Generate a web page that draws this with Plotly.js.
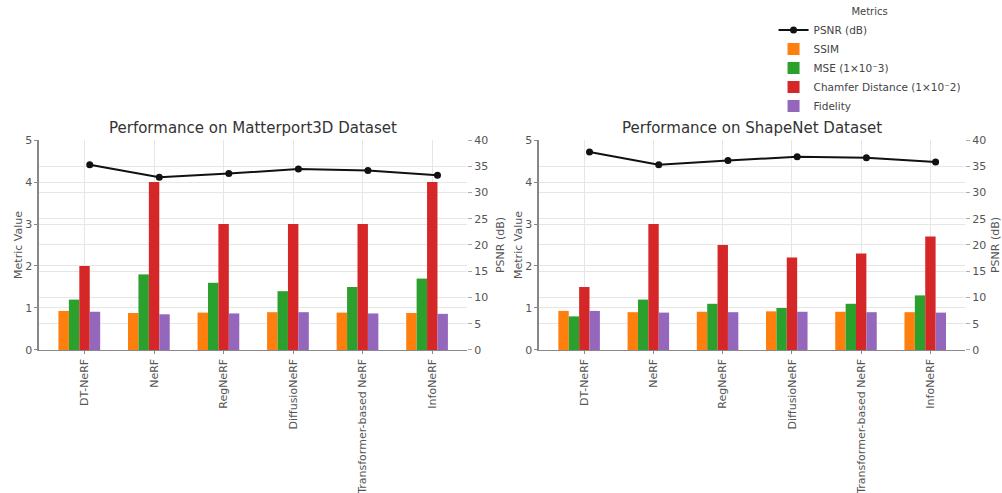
<!DOCTYPE html>
<html>
<head>
<meta charset="utf-8">
<script src="https://cdn.plot.ly/plotly-3.0.1.min.js"></script>
<style>html,body{margin:0;padding:0;background:#fff;}#chart{width:1002px;height:493px;}</style>
</head>
<body>
<div id="chart"></div>
<script>
const methods = ["DT-NeRF", "NeRF", "RegNeRF", "DiffusioNeRF", "Transformer-based NeRF", "InfoNeRF"];

// Matterport3D
const mpPSNR = [35.3, 32.9, 33.6, 34.5, 34.2, 33.3];
const mpSSIM = [0.93, 0.88, 0.89, 0.90, 0.89, 0.88];
const mpMSE = [1.2, 1.8, 1.6, 1.4, 1.5, 1.7];
const mpChamfer = [2.0, 4.0, 3.0, 3.0, 3.0, 4.0];
const mpFidelity = [0.91, 0.85, 0.87, 0.90, 0.87, 0.86];

// ShapeNet
const snPSNR = [37.7, 35.3, 36.1, 36.8, 36.6, 35.8];
const snSSIM = [0.93, 0.90, 0.91, 0.92, 0.91, 0.90];
const snMSE = [0.8, 1.2, 1.1, 1.0, 1.1, 1.3];
const snChamfer = [1.5, 3.0, 2.5, 2.2, 2.3, 2.7];
const snFidelity = [0.93, 0.89, 0.90, 0.91, 0.90, 0.89];

const seriesNames = ["PSNR (dB)", "SSIM", "MSE (1×10⁻3)", "Chamfer Distance (1×10⁻2)", "Fidelity"];
const titles = ["Performance on Matterport3D Dataset", "Performance on ShapeNet Dataset"];

const colors = {ssim: "#ff7f0e", mse: "#2ca02c", chamfer: "#d62728", fid: "#9467bd"};
const W = 0.15;
const idx = methods.map((m, i) => i);

function panel(xa, ya, ya2, psnr, ssim, mse, chamfer, fid, showLeg) {
  const bars = [
    [seriesNames[1], ssim, colors.ssim, -2.5 * W],
    [seriesNames[2], mse, colors.mse, -1.5 * W],
    [seriesNames[3], chamfer, colors.chamfer, -0.5 * W],
    [seriesNames[4], fid, colors.fid, 0.5 * W]
  ].map(([name, vals, col, off]) => ({
    type: "bar", x: idx, y: vals, name: name, width: W, offset: off,
    marker: {color: col, line: {width: 0}}, xaxis: xa, yaxis: ya,
    showlegend: showLeg, legendgroup: name, hoverinfo: "y+name"
  }));
  const line = {
    type: "scatter", mode: "lines+markers", x: idx.map(i => i + 0.5 * W), y: psnr,
    name: seriesNames[0], line: {color: "#111", width: 2}, marker: {color: "#111", size: 7},
    xaxis: xa, yaxis: ya2, showlegend: showLeg, legendgroup: seriesNames[0]
  };
  return [line].concat(bars);
}

const data = [].concat(
  panel("x", "y", "y2", mpPSNR, mpSSIM, mpMSE, mpChamfer, mpFidelity, true),
  panel("x2", "y3", "y4", snPSNR, snSSIM, snMSE, snChamfer, snFidelity, false)
);

const gridCol = "#e6e6e6";
const tickFont = {family: "DejaVu Sans, sans-serif", size: 11, color: "#555"};
function xAxis(dom, anchor) {
  return {
    domain: dom, anchor: anchor, type: "linear", range: [-0.655, 5.5],
    tickmode: "array", tickvals: idx, ticktext: methods, tickangle: -90,
    tickfont: tickFont, showgrid: true, gridcolor: gridCol, gridwidth: 1,
    showline: true, linecolor: "#888", linewidth: 1.5, ticks: "outside", ticklen: 3,
    tickcolor: "#888", zeroline: false, automargin: false, fixedrange: true
  };
}
function yLeft(anchor) {
  return {
    domain: [0.2901, 0.716], anchor: anchor, range: [0, 5], dtick: 1, tick0: 0,
    tickfont: tickFont, showgrid: true, gridcolor: gridCol, gridwidth: 1,
    showline: true, linecolor: "#888", linewidth: 1.5, ticks: "outside", ticklen: 3,
    tickcolor: "#888", zeroline: false, automargin: false,
    title: {text: "Metric Value", font: {family: "DejaVu Sans, sans-serif", size: 11, color: "#555"}, standoff: 0}
  };
}
function yRight(anchor, over) {
  return {
    domain: [0.2901, 0.716], anchor: anchor, overlaying: over, side: "right",
    range: [0, 40], dtick: 5, tick0: 0, tickfont: tickFont,
    showgrid: true, gridcolor: gridCol, gridwidth: 1, showline: false,
    ticks: "outside", ticklen: 4, tickcolor: "#aaa", zeroline: false, automargin: false,
    title: {text: "PSNR (dB)", font: {family: "DejaVu Sans, sans-serif", size: 11, color: "#555"}, standoff: 9}
  };
}

const layout = {
  width: 1002, height: 493,
  margin: {l: 0, r: 0, t: 0, b: 0, autoexpand: false},
  paper_bgcolor: "#fff", plot_bgcolor: "#fff",
  font: {family: "DejaVu Sans, sans-serif", color: "#444"},
  barmode: "overlay",
  showlegend: true,
  legend: {
    xref: "paper", yref: "paper", x: 0.772, y: 0.995, xanchor: "left", yanchor: "top",
    title: {text: "Metrics", side: "top center", font: {size: 10, color: "#444"}},
    font: {size: 10.5, color: "#444"}, bgcolor: "rgba(255,255,255,0)", borderwidth: 0,
    tracegroupgap: 0, itemwidth: 30, traceorder: "normal"
  },
  xaxis: xAxis([0.0389, 0.4661], "y"),
  yaxis: yLeft("x"),
  yaxis2: yRight("x", "y"),
  xaxis2: xAxis([0.5379, 0.9631], "y3"),
  yaxis3: yLeft("x2"),
  yaxis4: yRight("x2", "y3"),
  annotations: titles.map((t, i) => ({
    text: t, xref: "paper", yref: "paper",
    x: i === 0 ? (0.0389 + 0.4661) / 2 : (0.5379 + 0.9631) / 2, y: 0.740,
    xanchor: "center", yanchor: "middle", showarrow: false,
    font: {family: "DejaVu Sans, sans-serif", size: 15, color: "#333"}
  }))
};

Plotly.newPlot("chart", data, layout, {displayModeBar: false, staticPlot: true});
</script>
</body>
</html>
